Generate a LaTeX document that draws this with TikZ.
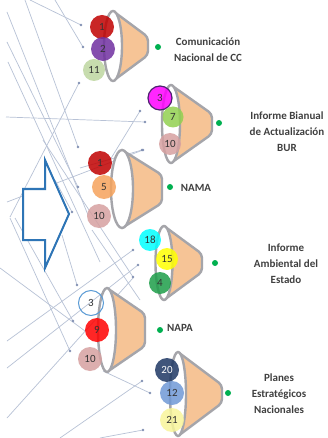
\documentclass[tikz,border=0pt]{standalone}
\usepackage{fontspec}
\setmainfont{Carlito}
\definecolor{peach}{RGB}{246,196,150}
\definecolor{fgrey}{RGB}{165,165,170}
\definecolor{bgline}{RGB}{184,194,214}
\definecolor{bgdot}{RGB}{130,145,180}
\definecolor{arrowblue}{RGB}{46,117,182}
\definecolor{gdotc}{RGB}{0,176,80}
\definecolor{lbl}{RGB}{64,64,64}
\definecolor{cred}{RGB}{192,0,0}
\definecolor{cpurple}{RGB}{112,48,160}
\definecolor{clgreen}{RGB}{190,214,160}
\definecolor{cmag}{RGB}{255,0,255}
\definecolor{cgreen}{RGB}{146,208,80}
\definecolor{cpink}{RGB}{214,160,160}
\definecolor{corange}{RGB}{246,163,92}
\definecolor{ccyan}{RGB}{0,255,255}
\definecolor{cyellow}{RGB}{255,255,0}
\definecolor{cdgreen}{RGB}{30,158,74}
\definecolor{cbred}{RGB}{255,0,0}
\definecolor{cnavy}{RGB}{31,56,100}
\definecolor{cblue}{RGB}{112,153,214}
\definecolor{cpale}{RGB}{248,245,154}
\definecolor{ring}{RGB}{91,155,213}
\tikzset{
  bg/.style={draw=bgline, line width=0.7pt},
  bgpt/.style={fill=bgdot},
  num/.style={circle, inner sep=0pt, minimum size=#1, fill opacity=0.85, text opacity=1,
    font=\fontsize{11}{11}\selectfont, text=black!80},
  fline/.style={draw=fgrey, line width=2.4pt, rounded corners=4pt},
  gdot/.style={circle, fill=gdotc, inner sep=0pt, minimum size=6pt},
  lab/.style={align=center, text=lbl, font=\fontsize{11}{16}\selectfont\bfseries},
}
\newcommand\drawfunnel[7]{%
  % #1 name, #2 cx, #3 cy, #4 rx, #5 ry, #6 ex, #7 half-height
  \draw[fline, fill=peach] (#2,#3-#5) -- (#6,#3-#7) -- (#6,#3+#7) -- (#2,#3+#5);
  \draw[fline, fill=white] (#2,#3) ellipse [x radius=#4pt, y radius=#5pt];
  \coordinate (#1) at (#2,#3);
}
\begin{document}
\begin{tikzpicture}[x=1pt, y=-1pt]
\useasboundingbox (0,0) rectangle (327,438);
\fill[white] (0,0) rectangle (327,438);
% background network of lines
\draw[bg] (30,0) -- (81,25);
\draw[bg] (55,0) -- (83,47);
\draw[bg] (25,0) -- (78,147);
\draw[bg] (7,12) -- (88,215);
\draw[bg] (7,42) -- (78,187);
\draw[bg] (8,62) -- (100,262);
\draw[bg] (6,117) -- (145,122);
\draw[bg] (79,83) -- (10,217);
\draw[bg] (140,111) -- (110,160);
\draw[bg] (142,150) -- (80,168);
\draw[bg] (7,202) -- (143,150);
\draw[bg] (43,140) -- (133,277);
\draw[bg] (72,212) -- (55,180);
\draw[bg] (0,268) -- (85,331);
\draw[bg] (10,218) -- (70,351);
\draw[bg] (15,218) -- (73,321);
\draw[bg] (62,235) -- (77,285);
\draw[bg] (7,341) -- (133,250);
\draw[bg] (7,368) -- (138,265);
\draw[bg] (7,418) -- (133,278);
\draw[bg] (60,438) -- (142,381);
\draw[bg] (103,371) -- (150,393);
\draw[bg] (100,438) -- (143,430);
\draw[bg] (92,230) -- (140,300);
\foreach \p in {(81,25),(83,47),(78,147),(78,187),(145,122),(79,83),(140,111),(142,150),(143,150),(133,277),(72,212),(70,351),(73,321),(77,285),(133,250),(138,265),(142,381),(150,393),(143,430)}
  \fill[bgpt] \p circle (1.3pt);
% block arrow
\draw[draw=arrowblue, fill=white, line width=2pt, line join=miter]
  (45,160) -- (69,214) -- (45,268) -- (45,240) -- (23,240) -- (23,189) -- (45,189) -- cycle;
% funnels
\drawfunnel{f1}{113}{46}{9}{35}{148}{9}
\drawfunnel{f2}{171}{124}{9}{39}{212}{10}
\drawfunnel{f3}{122}{189}{11}{39}{162}{14}
\drawfunnel{f4}{164}{263}{8.5}{37}{202}{9}
\drawfunnel{f5}{107}{330}{9}{42}{145}{16}
\drawfunnel{f6}{178}{394}{8}{42}{222}{9}
% circles
\node[num=24pt, fill=cred] (a1) at (102,27) {1};
\node[num=24pt, fill=cpurple] (a2) at (103,49) {2};
\node[num=22pt, fill=clgreen] (a3) at (94,70) {11};
\node[num=24pt, fill=cmag, draw=cpurple!70!black, line width=1.2pt] (b1) at (160,98) {3};
\node[num=21pt, fill=cgreen] (b2) at (173,117) {7};
\node[num=22pt, fill=cpink] (b3) at (170,144) {10};
\node[num=24pt, fill=cred] (c1) at (100,163) {1};
\node[num=24pt, fill=corange] (c2) at (104,187) {5};
\node[num=24pt, fill=cpink] (c3) at (99,216) {10};
\node[num=22pt, fill=ccyan] (d1) at (150,240) {18};
\node[num=22pt, fill=cyellow] (d2) at (167,259) {15};
\node[num=22pt, fill=cdgreen] (d3) at (160,283) {4};
\node[num=25pt, fill=none, draw=ring, line width=1pt] (e1) at (91,303) {3};
\node[num=24pt, fill=cbred] (e2) at (97,330) {9};
\node[num=24pt, fill=cpink] (e3) at (90,359) {10};
\node[num=24pt, fill=cnavy, text=white] (h1) at (167,370) {20};
\node[num=24pt, fill=cblue] (h2) at (172,393) {12};
\node[num=24pt, fill=cpale] (h3) at (172,420) {21};
% green markers
\node[gdot] (g1) at (158,47) {};
\node[gdot] (g2) at (219,123) {};
\node[gdot] (g3) at (170,187) {};
\node[gdot] (g4) at (215,263) {};
\node[gdot] (g5) at (160,330) {};
\node[gdot] (g6) at (228,393) {};
% labels
\node[lab] (l1) at (208,50) {Comunicación\\Nacional de CC};
\node[lab] (l2) at (287,132) {Informe Bianual\\de Actualización\\BUR};
\node[lab] (l3) at (196,188) {NAMA};
\node[lab] (l4) at (286,264) {Informe\\Ambiental del\\Estado};
\node[lab] (l5) at (180,328) {NAPA};
\node[lab] (l6) at (279,394) {Planes\\Estratégicos\\Nacionales};
\end{tikzpicture}
\end{document}
